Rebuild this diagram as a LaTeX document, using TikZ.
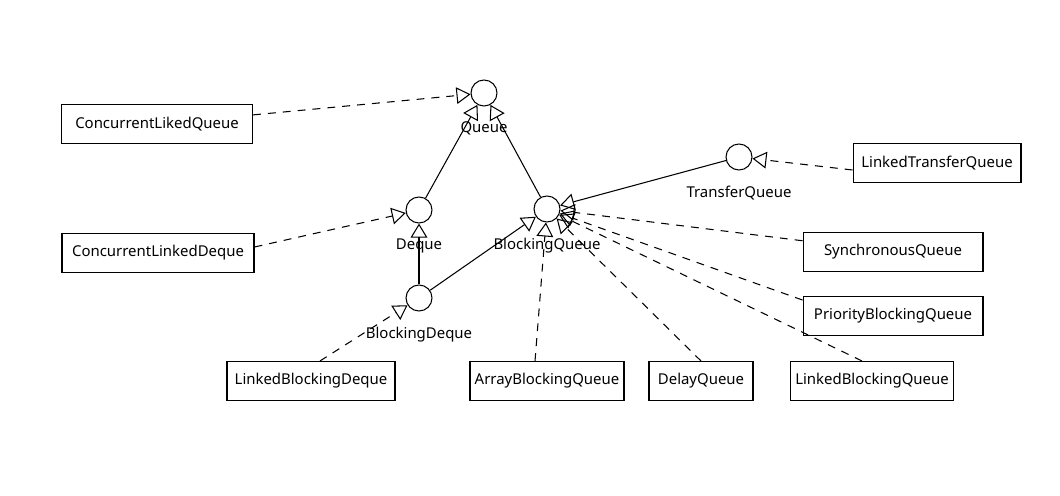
\documentclass[tikz,border=0pt]{standalone}
\usepackage{fontspec}
\setmainfont{Noto Sans}
\usetikzlibrary{ % tikz packages
    positioning,
    arrows.meta
}
\tikzset{
    iface/.style={circle, draw, minimum size=0.52cm, inner sep=0pt},
    ilabel/.style={inner sep=0pt},
    cls/.style={draw, minimum height=0.78cm, inner sep=1pt},
    extends/.style={-{Triangle[open, length=8pt, width=9.5pt]}},
    implements/.style={extends, dash pattern=on 4.5pt off 4pt}
}

\begin{document}
\begin{tikzpicture}[x=0.02cm, y=-0.02cm, line width=0.6pt,
    font=\fontsize{8.5}{10}\selectfont]
    \useasboundingbox (0,0) rectangle (1060,496);

    % interfaces
    \node[iface] (queue) at (484,93) {};
    \node[iface] (deque) at (419,210) {};
    \node[iface] (bqueue) at (547,209) {};
    \node[iface] (bdeque) at (419,298) {};
    \node[iface] (tqueue) at (739,157) {};

    \node[ilabel, below=0.3cm of queue] (queuel) {Queue};
    \node[ilabel, below=0.3cm of deque] (dequel) {Deque};
    \node[ilabel, below=0.3cm of bqueue] (bqueuel) {BlockingQueue};
    \node[ilabel, below=0.3cm of bdeque] (bdequel) {BlockingDeque};
    \node[ilabel, below=0.3cm of tqueue] (tqueuel) {TransferQueue};

    % classes
    \node[cls, minimum width=3.82cm] (clq) at (157,124) {ConcurrentLikedQueue};
    \node[cls, minimum width=3.84cm] (cld) at (158,253) {ConcurrentLinkedDeque};
    \node[cls, minimum width=3.36cm] (ltq) at (937,163) {LinkedTransferQueue};
    \node[cls, minimum width=3.6cm] (sq) at (893,252) {SynchronousQueue};
    \node[cls, minimum width=3.6cm] (pbq) at (893,316) {PriorityBlockingQueue};
    \node[cls, minimum width=3.36cm] (lbd) at (311,381) {LinkedBlockingDeque};
    \node[cls, minimum width=3.08cm] (abq) at (547,381) {ArrayBlockingQueue};
    \node[cls, minimum width=2.08cm] (dq) at (701,381) {DelayQueue};
    \node[cls, minimum width=3.26cm] (lbq) at (872,381) {LinkedBlockingQueue};

    \path[extends]
        (deque) edge (queue)
        (bqueue) edge (queue)
        (bdeque) edge (deque)
        (bdeque) edge (bqueue)
        (tqueue) edge (bqueue);

    \path[implements]
        (clq) edge (queue)
        ([yshift=0.12cm]cld.east) edge (deque)
        ([yshift=-0.14cm]ltq.west) edge (tqueue)
        (sq) edge (bqueue)
        (pbq.170) edge (bqueue)
        ([xshift=-0.2cm]lbq.north) edge (bqueue)
        (dq.north) edge (bqueue)
        ([xshift=-0.24cm]abq.north) edge (bqueue)
        ([xshift=0.18cm]lbd.north) edge (bdeque);
\end{tikzpicture}
\end{document}
